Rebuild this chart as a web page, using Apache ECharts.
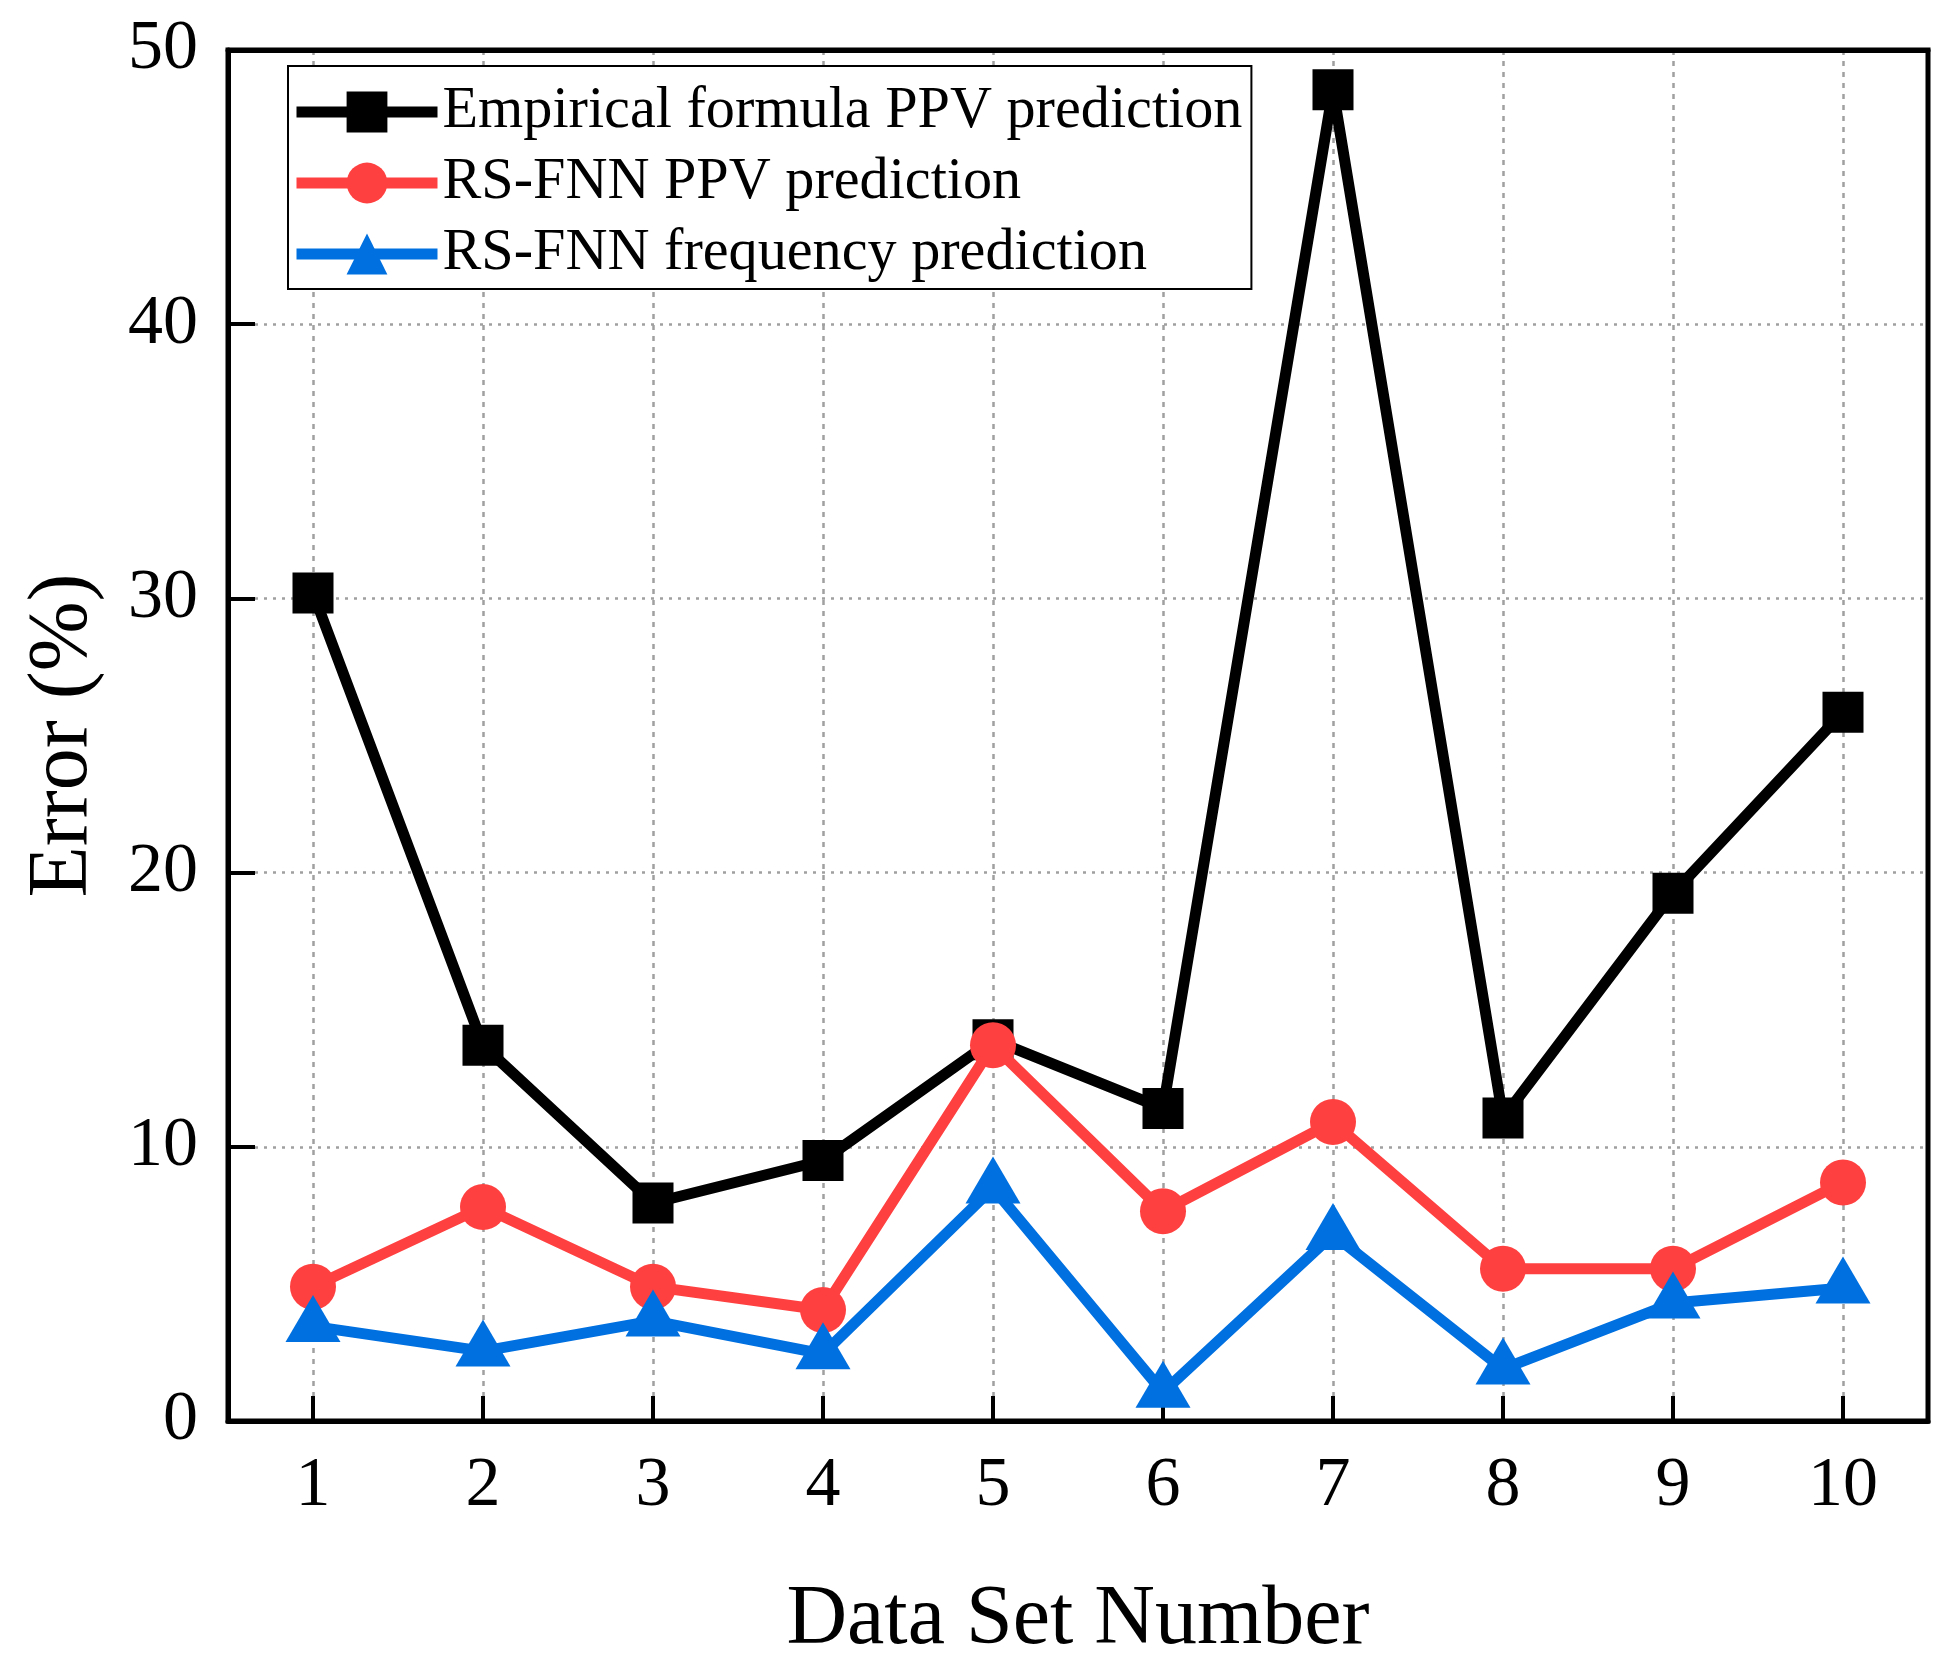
<!DOCTYPE html>
<html>
<head>
<meta charset="utf-8">
<script src="https://cdn.jsdelivr.net/npm/echarts@6/dist/echarts.min.js"></script>
<style>
html,body{margin:0;padding:0;background:#fff;}
#chart{width:1955px;height:1659px;}
</style>
</head>
<body>
<div id="chart"></div>
<script>
var categories = ['1','2','3','4','5','6','7','8','9','10'];
var empiricalPPV = [30.2, 13.7, 7.95, 9.5, 13.9, 11.4, 48.55, 11.05, 19.25, 25.85];
var rsfnnPPV = [4.9, 7.8, 4.9, 4.05, 13.7, 7.65, 10.9, 5.55, 5.55, 8.7];
var rsfnnFreq = [3.45, 2.55, 3.65, 2.45, 8.5, 1.05, 6.8, 1.9, 4.3, 4.85];
var yTicks = {min: 0, max: 50, interval: 10};
var seriesNames = ['Empirical formula PPV prediction', 'RS-FNN PPV prediction', 'RS-FNN frequency prediction'];

var FONT = "'Liberation Serif', 'Times New Roman', serif";
var chart = echarts.init(document.getElementById('chart'), null, {renderer: 'canvas'});
var gridColor = '#a0a0a0';

var option = {
  backgroundColor: '#fff',
  animation: false,
  grid: {
    left: 228, right: 27, top: 50, bottom: 238,
    outerBoundsMode: 'none',
    containLabel: false,
    show: true, borderColor: '#000', borderWidth: 5, backgroundColor: 'transparent'
  },
  legend: {
    orient: 'vertical',
    left: 288, top: 66,
    padding: [17, 9, 6, 3],
    itemWidth: 141, itemHeight: 51, itemGap: 13,
    borderColor: '#000', borderWidth: 2,
    backgroundColor: '#fff',
    lineStyle: {width: 11},
    textStyle: {fontFamily: FONT, fontSize: 58.2, color: '#000'},
    data: seriesNames
  },
  xAxis: [{
    type: 'category',
    data: categories,
    boundaryGap: true,
    name: 'Data Set Number',
    nameLocation: 'middle',
    nameGap: 158,
    nameTextStyle: {fontFamily: FONT, fontSize: 84, color: '#000'},
    axisLine: {lineStyle: {color: '#000', width: 5}},
    axisTick: {show: true, inside: true, alignWithLabel: true, length: 25, lineStyle: {color: '#000', width: 4}},
    axisLabel: {fontFamily: FONT, fontSize: 70, color: '#000', margin: 31},
    splitLine: {show: true, alignWithLabel: true, lineStyle: {color: gridColor, width: 2.5, type: [5, 6]}}
  }, {
    type: 'category',
    data: categories,
    position: 'top',
    boundaryGap: true,
    axisLine: {show: true, lineStyle: {color: '#000', width: 5}},
    axisTick: {show: false},
    axisLabel: {show: false},
    splitLine: {show: false}
  }],
  yAxis: {
    type: 'value',
    min: yTicks.min, max: yTicks.max, interval: yTicks.interval,
    name: 'Error (%)',
    nameLocation: 'middle',
    nameGap: 122,
    nameRotate: 90,
    nameTextStyle: {fontFamily: FONT, fontSize: 84, color: '#000'},
    axisLine: {show: true, lineStyle: {color: '#000', width: 5}},
    axisTick: {show: true, inside: true, length: 27, lineStyle: {color: '#000', width: 4}},
    axisLabel: {fontFamily: FONT, fontSize: 70, color: '#000', margin: 30},
    splitLine: {show: true, lineStyle: {color: gridColor, width: 2.5, type: [3, 6]}}
  },
  series: [
    {
      name: seriesNames[0], type: 'line', data: empiricalPPV,
      symbol: 'rect', symbolSize: 41, showAllSymbol: true,
      lineStyle: {color: '#000', width: 11},
      itemStyle: {color: '#000'},
      z: 2
    },
    {
      name: seriesNames[1], type: 'line', data: rsfnnPPV,
      symbol: 'circle', symbolSize: 46, showAllSymbol: true,
      lineStyle: {color: '#FF4040', width: 11},
      itemStyle: {color: '#FF4040'},
      z: 3
    },
    {
      name: seriesNames[2], type: 'line', data: rsfnnFreq,
      symbol: 'triangle', symbolSize: [55, 47], symbolOffset: [0, -8], showAllSymbol: true,
      lineStyle: {color: '#0070E0', width: 11},
      itemStyle: {color: '#0070E0'},
      z: 4
    }
  ]
};
chart.setOption(option);
</script>
</body>
</html>
